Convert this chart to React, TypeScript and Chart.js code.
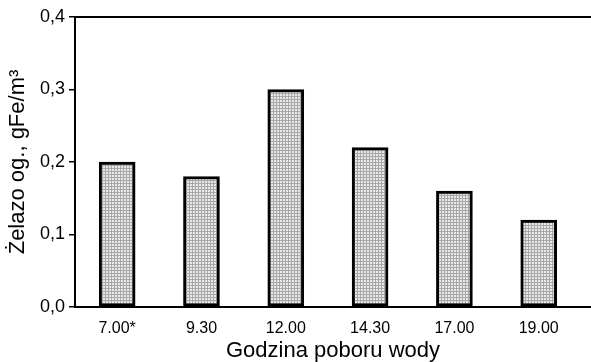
import React, { useEffect, useRef } from "react";
import { Chart, registerables } from "chart.js";

Chart.register(...registerables);

const categories = ["7.00*", "9.30", "12.00", "14.30", "17.00", "19.00"];
const ironValues = [0.2, 0.18, 0.3, 0.22, 0.16, 0.12];
const yTicks = [0, 0.1, 0.2, 0.3, 0.4];

function makePattern(): CanvasPattern | string {
  const c = document.createElement("canvas");
  c.width = 3;
  c.height = 3;
  const ctx = c.getContext("2d");
  if (!ctx) return "#d6d6d6";
  ctx.fillStyle = "#e8e8e8";
  ctx.fillRect(0, 0, 3, 3);
  ctx.fillStyle = "#a8a8a8";
  ctx.fillRect(0, 0, 3, 1);
  ctx.fillRect(0, 0, 1, 3);
  const p = ctx.createPattern(c, "repeat");
  return p || "#d6d6d6";
}

const FONT = "'Liberation Sans', Arial, sans-serif";

export default function App() {
  const ref = useRef<HTMLCanvasElement | null>(null);

  useEffect(() => {
    if (!ref.current) return;
    const framePlugin = {
      id: "frameTop",
      afterDraw(chart: any) {
        const { ctx, chartArea } = chart;
        ctx.save();
        ctx.strokeStyle = "#000";
        ctx.lineWidth = 2;
        ctx.beginPath();
        ctx.moveTo(chartArea.left, chartArea.top);
        ctx.lineTo(chart.width, chartArea.top);
        ctx.stroke();
        ctx.restore();
      },
    };
    const chart = new Chart(ref.current, {
      type: "bar",
      data: {
        datasets: [
          {
            data: ironValues.map((v, i) => ({ x: i, y: v })),
            backgroundColor: makePattern() as any,
            borderColor: "#000",
            borderWidth: 3,
            borderSkipped: false,
            barThickness: 36,
          },
        ],
      },
      options: {
        animation: false,
        responsive: false,
        devicePixelRatio: 1,
        layout: { padding: { top: 17, right: 0, left: 0, bottom: 0 } },
        plugins: { legend: { display: false }, tooltip: { enabled: false } },
        scales: {
          x: {
            type: "linear",
            offset: false,
            min: -0.5,
            max: 5.62,
            afterBuildTicks(scale: any) {
              scale.ticks = categories.map((_, i) => ({ value: i }));
            },
            afterFit(scale: any) {
              scale.height = 55;
            },
            ticks: {
              callback: (v: any) => categories[Math.round(Number(v))] ?? "",
              color: "#000",
              font: { family: FONT, size: 16 },
              padding: 12,
              maxRotation: 0,
              autoSkip: false,
            },
            grid: { display: false, drawTicks: false, offset: false },
            border: { display: true, color: "#000", width: 2 },
            title: {
              display: true,
              text: "Godzina poboru wody",
              color: "#000",
              font: { family: FONT, size: 22 },
              padding: { top: 0, bottom: -2 },
            },
          },
          y: {
            min: 0,
            max: 0.4,
            afterBuildTicks(scale: any) {
              scale.ticks = yTicks.map((v) => ({ value: v }));
            },
            afterFit(scale: any) {
              scale.width = 75;
            },
            ticks: {
              callback: (v: any) => Number(v).toFixed(1).replace(".", ","),
              color: "#000",
              font: { family: FONT, size: 18 },
              padding: 4,
            },
            grid: {
              drawOnChartArea: false,
              drawTicks: true,
              tickLength: 6,
              color: "#000",
              lineWidth: 1.5,
            },
            border: { display: true, color: "#000", width: 2 },
            title: {
              display: true,
              text: "Żelazo og., gFe/m³",
              color: "#000",
              font: { family: FONT, size: 22 },
              padding: { top: 5, bottom: 0 },
            },
          },
        },
      },
      plugins: [framePlugin],
    });
    return () => chart.destroy();
  }, []);

  return (
    <div
      style={{
        position: "fixed",
        left: 0,
        top: 0,
        width: 591,
        height: 362,
        overflow: "hidden",
        background: "#fff",
      }}
    >
      <canvas ref={ref} width={591} height={362} />
    </div>
  );
}
